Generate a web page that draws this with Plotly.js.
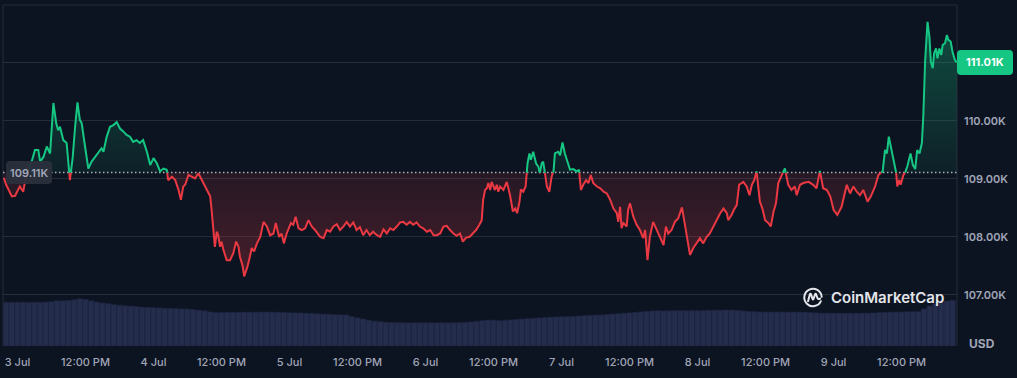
<!DOCTYPE html>
<html><head><meta charset="utf-8">
<script src="https://cdn.plot.ly/plotly-3.0.1.min.js"></script>
<style>html,body{margin:0;padding:0;background:#0d1421;} #chart{width:1017px;height:378px;}</style>
</head><body><div id="chart"></div>
<script>
// minutes since 2025-07-03 00:00 (UTC-less local chart time)
const minutes = [-145,-120,-60,-25,5,25,60,95,155,185,
220,240,275,310,345,380,410,430,450,485,
520,555,585,610,635,660,680,715,750,785,
820,855,890,910,945,980,1015,1050,1085,1120,
1155,1190,1225,1260,1295,1330,1370,1405,1440,1475,
1510,1545,1580,1595,1635,1670,1705,1730,1755,1775,
1810,1845,1880,1915,1950,2005,2040,2055,2080,2090,
2110,2125,2145,2160,2180,2215,2250,2285,2315,2340,
2355,2385,2400,2435,2460,2480,2505,2535,2570,2605,
2640,2675,2710,2735,2770,2795,2820,2850,2895,2920,
2945,2975,3010,3045,3080,3115,3150,3185,3205,3240,
3275,3310,3345,3380,3415,3450,3485,3520,3555,3590,
3625,3660,3695,3730,3765,3805,3840,3875,3910,3945,
3980,4015,4050,4085,4120,4155,4190,4225,4260,4295,
4335,4370,4405,4440,4475,4510,4545,4580,4615,4650,
4685,4715,4750,4785,4820,4855,4890,4915,4930,4950,
4970,4985,5005,5020,5055,5075,5090,5110,5145,5180,
5215,5245,5270,5290,5315,5330,5355,5380,5400,5420,
5435,5460,5490,5515,5530,5550,5565,5585,5605,5630,
5655,5675,5690,5725,5745,5770,5795,5820,5850,5885,
5920,5945,5965,5990,6020,6045,6070,6095,6135,6170,
6205,6240,6275,6310,6345,6360,6380,6395,6415,6450,
6465,6485,6520,6555,6590,6625,6645,6670,6695,6730,
6770,6805,6840,6865,6890,6925,6960,6995,7035,7055,
7085,7120,7155,7190,7225,7260,7295,7330,7365,7405,
7440,7475,7510,7525,7560,7585,7615,7640,7685,7720,
7750,7775,7800,7825,7860,7890,7915,7950,7975,8005,
8030,8055,8090,8125,8160,8195,8230,8250,8285,8320,
8375,8425,8460,8495,8530,8570,8605,8640,8680,8725,
8780,8815,8850,8885,8920,8955,9000,9035,9080,9115,
9160,9185,9205,9225,9255,9275,9300,9315,9335,9350,
9380,9395,9420,9455,9480,9505,9525,9550,9575,9590,
9610,9635,9655,9670,9690,9705,9725,9740,9760,9780,
9795,9820,9840,9855,9880,9900,9925,9945];

const prices = [109020,108900,108700,108710,108810,108870,108780,109100,109330,109500,
109500,109300,109380,109560,109440,110310,109960,109840,109900,109670,
109620,108980,109380,109900,110320,110020,109960,109560,109180,109300,
109380,109470,109530,109470,109730,109900,109930,109980,109870,109820,
109760,109730,109640,109670,109620,109670,109470,109240,109360,109270,
109130,109180,109160,108980,109040,108980,108810,108640,108870,108900,
109070,109040,109010,109100,108980,108810,108700,108470,108000,107830,
108090,108030,107830,107920,107780,107600,107600,107720,107920,107830,
107660,107490,107320,107490,107660,107810,107750,107890,108000,108260,
108180,108030,108060,108240,108000,108060,107890,108060,108240,108210,
108350,108150,108120,108150,108290,108180,108120,108030,108000,107980,
108120,108090,108180,108220,108120,108180,108260,108180,108250,108120,
108170,108030,108120,108030,108090,108030,108000,108130,108060,108150,
108120,108180,108250,108260,108210,108260,108210,108250,108180,108150,
108090,108120,108030,108030,108060,108180,108190,108120,108060,108020,
108060,107920,107990,108000,108060,108120,108210,108290,108640,108810,
108840,108930,108810,108950,108810,108900,108780,108870,108810,108950,
108720,108440,108490,108410,108610,108820,108780,108870,109270,109440,
109330,109470,109270,109210,109100,109270,109300,109100,108870,108780,
109040,109130,109440,109470,109410,109630,109440,109300,109160,109170,
109130,109160,108810,108900,108980,108930,109070,108930,108870,108840,
108780,108750,108640,108490,108410,108260,108520,108150,108240,108180,
108470,108580,108350,108210,108120,107980,108120,107600,108000,108260,
108120,108000,107860,108180,108060,108120,108260,108320,108510,108320,
108060,107690,107810,107890,107980,107890,108000,108060,108180,108290,
108410,108490,108410,108290,108380,108470,108550,108900,108950,108870,
108720,108900,108980,109130,108610,108470,108290,108240,108180,108440,
108580,108930,109070,109180,108900,108810,108870,108720,108900,108930,
108950,108900,108840,109140,108840,108810,108700,108470,108380,108520,
108900,108750,108870,108780,108720,108810,108610,108700,108870,109070,
109130,109500,109440,109730,109500,109300,109160,108870,108980,108900,
109070,109100,109210,109440,109240,109170,109500,109440,109620,110070,
111050,111710,111450,111020,110910,111170,111250,111080,111250,111140,
111310,111340,111480,111400,111370,111190,111050,111010];

// hourly volume (billions USD), first bar at hour -2 relative to 3 Jul 00:00
const volStartHour = -2;
const volumes = [51.3,51.3,51.3,51.3,51.2,51.4,51.3,51.5,
52.0,53.1,53.0,53.4,54.3,55.5,54.6,53.0,51.5,50.5,
49.6,48.6,47.8,47.2,46.8,46.4,45.6,45.2,45.0,44.7,
44.3,44.0,43.8,43.6,43.4,42.8,42.0,41.2,40.0,39.2,
39.3,39.4,39.5,39.6,39.7,39.6,39.8,39.9,39.9,39.7,
39.6,39.4,39.1,38.9,38.7,38.4,38.1,37.8,37.5,37.3,
36.9,36.6,36.4,34.5,33.0,31.6,30.3,29.2,28.5,28.0,
27.6,27.4,27.3,27.3,27.2,27.3,27.4,27.3,27.2,27.3,
27.3,27.4,27.5,27.8,28.3,29.0,29.8,30.4,30.3,29.8,
30.2,30.6,31.1,31.6,32.1,32.5,33.0,33.4,33.8,34.1,
34.4,34.4,34.8,35.2,35.6,36.0,36.3,36.5,37.0,37.5,
38.0,38.5,39.0,39.4,40.0,40.6,41.1,41.4,41.2,41.3,
41.5,41.4,41.6,41.5,41.4,41.6,41.8,42.0,42.1,42.2,
42.2,41.8,41.2,40.7,40.3,40.0,39.9,39.9,40.0,39.9,
39.8,39.9,39.9,39.6,39.2,38.9,38.6,38.4,38.4,38.4,
38.3,38.4,38.5,38.4,38.4,38.8,39.2,39.5,39.7,39.9,
40.0,40.1,40.2,40.5,43.5,47.0,49.5,51.5,52.8,53.6];

const baseline = 109110;
const priceTicks = [107000,108000,109000,110000,111000];
const priceTickText = ['107.00K','108.00K','109.00K','110.00K','111.00K'];
const dateTicks = ['2025-07-03 00:00','2025-07-03 12:00','2025-07-04 00:00','2025-07-04 12:00',
  '2025-07-05 00:00','2025-07-05 12:00','2025-07-06 00:00','2025-07-06 12:00',
  '2025-07-07 00:00','2025-07-07 12:00','2025-07-08 00:00','2025-07-08 12:00',
  '2025-07-09 00:00','2025-07-09 12:00'];
const dateTickText = ['3 Jul','12:00 PM','4 Jul','12:00 PM','5 Jul','12:00 PM','6 Jul','12:00 PM',
  '7 Jul','12:00 PM','8 Jul','12:00 PM','9 Jul','12:00 PM'];

const origin = Date.UTC(2025, 6, 3, 0, 0, 0);
function toDate(min) { return new Date(origin + Math.round(min * 60000)).toISOString().slice(0, 19).replace('T', ' '); }

// insert baseline crossings so the line changes colour exactly at the baseline
const xs = [], ys = [];
for (let i = 0; i < prices.length; i++) {
  xs.push(minutes[i]); ys.push(prices[i]);
  if (i < prices.length - 1) {
    const a = prices[i] - baseline, b = prices[i + 1] - baseline;
    if (a * b < 0) {
      const t = a / (a - b);
      xs.push(minutes[i] + t * (minutes[i + 1] - minutes[i]));
      ys.push(baseline);
    }
  }
}
const xd = xs.map(toDate);
const baseArr = xs.map(() => baseline);
const upFill = ys.map(v => Math.max(v, baseline));
const downFill = ys.map(v => Math.min(v, baseline));
const upLine = ys.map(v => v >= baseline ? v : null);
const downLine = ys.map(v => v <= baseline ? v : null);
const pMin = Math.min(...prices), pMax = Math.max(...prices);

const GREEN = '#16c784', RED = '#ea3943';
const volX = volumes.map((v, i) => toDate((volStartHour + i) * 60));

const traces = [
  {type: 'bar', x: volX, y: volumes, yaxis: 'y2', width: 3600000,
   marker: {color: '#252d4c', line: {color: '#1c2340', width: 0.6}}, hoverinfo: 'skip'},
  {type: 'scatter', x: xd, y: baseArr, mode: 'lines', line: {width: 0, color: 'rgba(0,0,0,0)'}, hoverinfo: 'skip'},
  {type: 'scatter', x: xd, y: upFill, mode: 'none', fill: 'tonexty', hoverinfo: 'skip',
   fillcolor: 'rgba(22,199,132,0.15)',
   fillgradient: {type: 'vertical', start: baseline, stop: pMax,
     colorscale: [[0, 'rgba(22,199,132,0.07)'], [1, 'rgba(22,199,132,0.32)']]}},
  {type: 'scatter', x: xd, y: baseArr, mode: 'lines', line: {width: 0, color: 'rgba(0,0,0,0)'}, hoverinfo: 'skip'},
  {type: 'scatter', x: xd, y: downFill, mode: 'none', fill: 'tonexty', hoverinfo: 'skip',
   fillcolor: 'rgba(234,57,67,0.15)',
   fillgradient: {type: 'vertical', start: pMin, stop: baseline,
     colorscale: [[0, 'rgba(234,57,67,0.26)'], [1, 'rgba(234,57,67,0.11)']]}},
  {type: 'scatter', x: xd, y: downLine, mode: 'lines', connectgaps: false,
   line: {color: RED, width: 2}, hoverinfo: 'skip'},
  {type: 'scatter', x: xd, y: upLine, mode: 'lines', connectgaps: false,
   line: {color: GREEN, width: 2}, hoverinfo: 'skip'}
];

// layout helpers (plot area 954 x 341 px)
const PW = 954, PH = 341;
const yRange = [106120, 112000];
const py = v => (v - yRange[0]) / (yRange[1] - yRange[0]);
function roundRect(x0, x1, y0, y1, rpx) {
  const rx = rpx / PW, ry = rpx / PH;
  return `M${x0 + rx},${y0} L${x1 - rx},${y0} Q${x1},${y0} ${x1},${y0 + ry} L${x1},${y1 - ry} Q${x1},${y1} ${x1 - rx},${y1} ` +
         `L${x0 + rx},${y1} Q${x0},${y1} ${x0},${y1 - ry} L${x0},${y0 + ry} Q${x0},${y0} ${x0 + rx},${y0} Z`;
}
const lastPrice = prices[prices.length - 1];
const hb = 11.5 / PH;
const leftBadge = roundRect(3 / PW, 49 / PW, py(baseline) - hb, py(baseline) + hb, 4);
const rightBadge = roundRect(1.0, 56 / PW + 1.0, py(lastPrice) - 12.5 / PH, py(lastPrice) + 12.5 / PH, 4);

const frameColor = '#262b38';
const logoSvg = '<svg xmlns="http://www.w3.org/2000/svg" viewBox="0 0 24 24">' +
  '<path d="M20.61 16.01 A9.5 9.5 0 1 1 21.46 11.17" fill="none" stroke="#e3e5ea" stroke-width="2.2" stroke-linecap="round"/>' +
  '<path d="M6.6 16 L8.6 8.6 Q9.2 7.2 9.9 8.7 L11.5 13.5 Q12 14.8 12.5 13.5 L14.2 8.7 Q14.9 7.2 15.5 8.7 L16.8 12.5 Q17.6 14.6 19.8 13.2" fill="none" stroke="#e3e5ea" stroke-width="2.2" stroke-linecap="round" stroke-linejoin="round"/></svg>';

const layout = {
  width: 1017, height: 378,
  paper_bgcolor: '#0d1421', plot_bgcolor: '#0d1421',
  margin: {l: 3, r: 60, t: 5, b: 32},
  showlegend: false,
  font: {family: 'Inter, "Noto Sans", sans-serif', color: '#a0a6b8'},
  bargap: 0,
  xaxis: {type: 'date', range: [toDate(-153.5), toDate(9947)], tickvals: dateTicks, ticktext: dateTickText,
    showgrid: false, zeroline: false, showline: false, ticks: '', ticklabelstandoff: 8,
    tickfont: {size: 11, color: '#a0a6b8', weight: 500}},
  yaxis: {side: 'right', range: yRange, tickvals: priceTicks, ticktext: priceTickText,
    showgrid: true, gridcolor: frameColor, gridwidth: 1, zeroline: false, showline: false, ticks: '',
    ticklabelstandoff: 6, tickfont: {size: 11, color: '#a0a6b8', weight: 600}},
  yaxis2: {overlaying: 'y', range: [0, 400], visible: false},
  shapes: [
    {type: 'line', xref: 'paper', yref: 'paper', x0: 0, x1: 0, y0: 0, y1: 1, line: {color: frameColor, width: 1}, layer: 'below'},
    {type: 'line', xref: 'paper', yref: 'paper', x0: 0, x1: 1, y0: 1, y1: 1, line: {color: frameColor, width: 1}, layer: 'below'},
    {type: 'line', xref: 'paper', yref: 'paper', x0: 1, x1: 1, y0: 0, y1: 1, line: {color: frameColor, width: 1}, layer: 'below'},
    {type: 'line', xref: 'paper', yref: 'y', x0: 0, x1: 1, y0: baseline, y1: baseline,
     line: {color: 'rgba(215,220,230,0.8)', width: 1.5, dash: '1.5px,2.5px'}, layer: 'between'},
    {type: 'path', xref: 'paper', yref: 'paper', path: leftBadge, fillcolor: 'rgba(42,47,60,0.95)', line: {width: 0}, layer: 'above'},
    {type: 'path', xref: 'paper', yref: 'paper', path: rightBadge, fillcolor: GREEN, line: {width: 0}, layer: 'above'}
  ],
  annotations: [
    {xref: 'paper', yref: 'paper', x: 26 / PW, y: py(baseline), text: (baseline / 1000).toFixed(2) + 'K', showarrow: false,
     xanchor: 'center', yanchor: 'middle', font: {size: 11, color: '#a0a6b8', weight: 600}},
    {xref: 'paper', yref: 'paper', x: 1 + 28 / PW, y: py(lastPrice), text: (lastPrice / 1000).toFixed(2) + 'K', showarrow: false,
     xanchor: 'center', yanchor: 'middle', font: {size: 11, color: '#ffffff', weight: 700}},
    {xref: 'paper', yref: 'paper', x: 1 + 25 / PW, y: 1 - 338 / PH, text: 'USD', showarrow: false,
     xanchor: 'center', yanchor: 'middle', font: {size: 12, color: '#a0a6b8', weight: 700}},
    {xref: 'paper', yref: 'paper', x: 826 / PW, y: 1 - 292 / PH, text: 'CoinMarketCap', showarrow: false,
     xanchor: 'left', yanchor: 'middle', font: {size: 15, color: '#e3e5ea', weight: 600}}
  ],
  images: [
    {source: 'data:image/svg+xml;utf8,' + encodeURIComponent(logoSvg), xref: 'paper', yref: 'paper',
     x: 799 / PW, y: 1 - 281.5 / PH, sizex: 22 / PW, sizey: 22 / PH, xanchor: 'left', yanchor: 'top',
     sizing: 'contain', layer: 'above'}
  ]
};

Plotly.newPlot('chart', traces, layout, {staticPlot: true, displayModeBar: false});
</script>
</body></html>
